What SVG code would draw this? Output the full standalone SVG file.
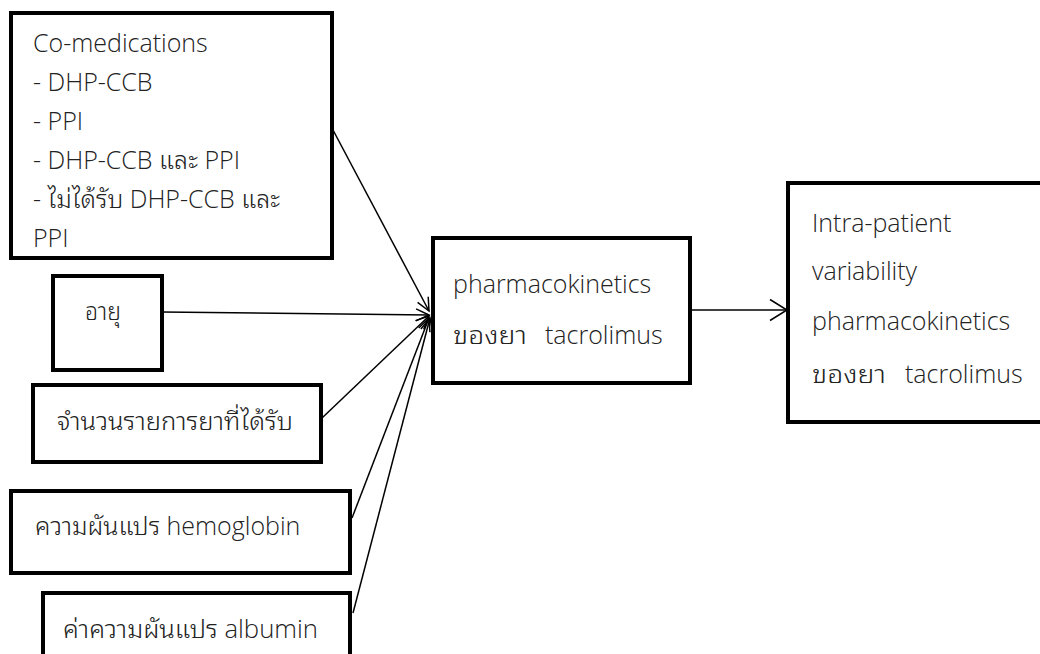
<svg xmlns="http://www.w3.org/2000/svg" width="1040" height="654" viewBox="0 0 1040 654">
<defs>
<style>
.box{fill:#fff;stroke:#000;stroke-width:4}
.t{font-family:"Open Sans","Noto Sans","Noto Sans Thai Looped","Noto Sans Thai",sans-serif;font-size:25px;font-weight:300;fill:#222}
.c{stroke:#000;stroke-width:1.5;fill:none}
</style>
<marker id="ah" markerUnits="userSpaceOnUse" markerWidth="16" markerHeight="16" viewBox="-14 -8 16 16" refX="0" refY="0" orient="auto">
<path d="M-13,-6 L0,0 L-13,6" fill="none" stroke="#000" stroke-width="1.5"/>
</marker>
<marker id="ah2" markerUnits="userSpaceOnUse" markerWidth="22" markerHeight="26" viewBox="-20 -13 22 26" refX="0" refY="0" orient="auto">
<path d="M-17,-10.5 L0,0 L-17,10.5" fill="none" stroke="#000" stroke-width="1.5"/>
</marker>
</defs>
<rect width="1040" height="654" fill="#fff"/>
<g id="connectors">
<line class="c" x1="333" y1="130" x2="429" y2="311" marker-end="url(#ah)"/>
<line class="c" x1="162" y1="312" x2="429" y2="315" marker-end="url(#ah)"/>
<line class="c" x1="322" y1="418" x2="429" y2="316" marker-end="url(#ah)"/>
<line class="c" x1="352" y1="518" x2="429" y2="318" marker-end="url(#ah)"/>
<line class="c" x1="353" y1="613" x2="430" y2="318" marker-end="url(#ah)"/>
<line class="c" x1="690" y1="310" x2="787" y2="310" marker-end="url(#ah2)"/>
</g>
<g id="comed">
<rect class="box" x="11" y="13" width="321" height="245"/>
<text class="t" x="33" y="52">Co-medications</text>
<text class="t" x="33" y="91">- DHP-CCB</text>
<text class="t" x="33" y="130">- PPI</text>
<text class="t" x="33" y="169">- DHP-CCB และ PPI</text>
<text class="t" x="33" y="208">- ไม่ได้รับ DHP-CCB และ</text>
<text class="t" x="33" y="247">PPI</text>
</g>
<g id="age">
<rect class="box" x="53" y="276" width="109" height="94"/>
<text class="t" x="85" y="320" textLength="36" lengthAdjust="spacingAndGlyphs">อายุ</text>
</g>
<g id="drugcount">
<rect class="box" x="33" y="385" width="288" height="77"/>
<text class="t" x="57" y="430" textLength="236" lengthAdjust="spacingAndGlyphs">จำนวนรายการยาที่ได้รับ</text>
</g>
<g id="hemoglobin">
<rect class="box" x="11" y="491" width="339" height="82"/>
<text class="t" x="35" y="535">ความผันแปร hemoglobin</text>
</g>
<g id="albumin">
<rect class="box" x="43" y="593" width="307" height="80"/>
<text class="t" x="63" y="638" textLength="255" lengthAdjust="spacingAndGlyphs">ค่าความผันแปร albumin</text>
</g>
<g id="pk">
<rect class="box" x="433" y="238" width="257" height="145"/>
<text class="t" x="453" y="293">pharmacokinetics</text>
<text class="t" x="453" y="344" textLength="74" lengthAdjust="spacingAndGlyphs">ของยา</text>
<text class="t" x="545" y="344">tacrolimus</text>
</g>
<g id="ipv">
<rect class="box" x="788" y="183" width="260" height="239"/>
<text class="t" x="812" y="232">Intra-patient</text>
<text class="t" x="812" y="280">variability</text>
<text class="t" x="812" y="330">pharmacokinetics</text>
<text class="t" x="812" y="383" textLength="74" lengthAdjust="spacingAndGlyphs">ของยา</text>
<text class="t" x="905" y="383">tacrolimus</text>
</g>
</svg>
